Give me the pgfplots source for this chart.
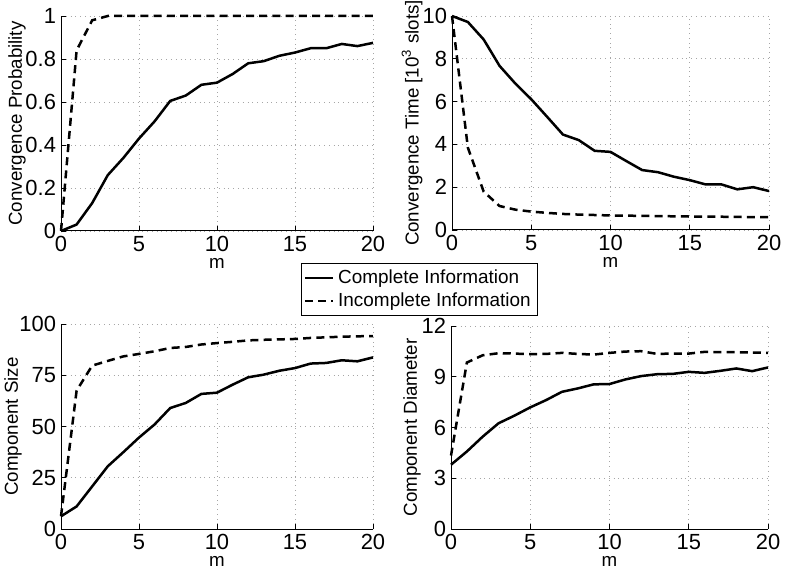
\documentclass[border=0pt]{standalone}
\usepackage{fontspec}
\setmainfont{Liberation Sans}
\usepackage{pgfplots}
\pgfplotsset{compat=1.18}
\pgfplotsset{
  mystyle/.style={
    scale only axis,
    xmin=0, xmax=20, xtick={0,5,10,15,20},
    axis x line*=bottom, axis y line*=left,
    axis line style={-, line width=0.5bp},
    tick align=inside, major tick length=2.5bp,
    tick style={black, line width=0.4bp},
    grid=major, major grid style={dotted, gray!70, line width=0.4bp},
    /pgf/number format/assume math mode=true,
    tick label style={font=\fontsize{11}{12}\selectfont},
    xticklabel style={yshift=1bp},
    yticklabel style={xshift=1bp},
    label style={font=\fontsize{9.4}{11}\selectfont},
    xlabel={m},
    xlabel style={yshift=3.5bp},
    clip=false,
  },
  ylab/.style={ylabel style={at={(axis description cs:#1,0.5)}, anchor=center, rotate=0}},
  sol/.style={black, solid, line width=1.25bp},
  dsh/.style={black, line width=1.25bp, dash pattern=on 4bp off 2.6bp},
}
\begin{document}
\begin{tikzpicture}
\path[use as bounding box] (0,0) rectangle (394.5bp,285bp);
% Panel 1
\begin{axis}[mystyle, at={(30.5bp,169.5bp)}, anchor=south west,
  width=156bp, height=107.5bp, ymin=0, ymax=1, ytick={0,0.2,0.4,0.6,0.8,1},
  yticklabels={0,0.2,0.4,0.6,0.8,1},
  ylabel={Convergence Probability}, ylab=-0.141,
  legend style={at={(0.769,-0.149)}, anchor=north west, draw=black, line width=0.4bp,
    font=\fontsize{9.5}{11}\selectfont, inner sep=1.2bp, row sep=-1bp,
    legend cell align=left},
  legend image code/.code={\draw[#1] (0bp,0bp) -- (14bp,0bp);},
  ]
\addplot[sol] coordinates {(0,0) (1,0.03) (2,0.13) (3,0.26) (4,0.34) (5,0.43) (6,0.51) (7,0.605) (8,0.63) (9,0.68) (10,0.69) (11,0.73) (12,0.78) (13,0.79) (14,0.815) (15,0.83) (16,0.85) (17,0.85) (18,0.87) (19,0.86) (20,0.875)};
\addlegendentry{Complete Information}
\addplot[dsh] coordinates {(0,0) (1,0.84) (2,0.98) (3,1.0) (4,1.0) (5,1.0) (6,1.0) (7,1.0) (8,1.0) (9,1.0) (10,1.0) (11,1.0) (12,1.0) (13,1.0) (14,1.0) (15,1.0) (16,1.0) (17,1.0) (18,1.0) (19,1.0) (20,1.0)};
\addlegendentry{Incomplete Information}
\end{axis}
% Panel 2
\begin{axis}[mystyle, at={(226bp,170bp)}, anchor=south west,
  width=158.5bp, height=107bp, ymin=0, ymax=10, ytick={0,2,4,6,8,10},
  ylabel={Convergence Time [10\textsuperscript{3} slots]}, ylab=-0.126,
  ]
\addplot[sol] coordinates {(0,10) (1,9.72) (2,8.9) (3,7.67) (4,6.84) (5,6.11) (6,5.29) (7,4.46) (8,4.2) (9,3.7) (10,3.65) (11,3.22) (12,2.8) (13,2.7) (14,2.49) (15,2.33) (16,2.13) (17,2.13) (18,1.9) (19,2.0) (20,1.82)};
\addplot[dsh] coordinates {(0,10) (1,3.85) (2,1.79) (3,1.12) (4,0.95) (5,0.86) (6,0.8) (7,0.75) (8,0.72) (9,0.7) (10,0.68) (11,0.67) (12,0.66) (13,0.65) (14,0.64) (15,0.63) (16,0.62) (17,0.62) (18,0.61) (19,0.6) (20,0.6)};
\end{axis}
% Panel 3
\begin{axis}[mystyle, at={(30.5bp,20.5bp)}, anchor=south west,
  width=156bp, height=102.5bp, ymin=0, ymax=100, ytick={0,25,50,75,100},
  ylabel={Component Size}, ylab=-0.154,
  ]
\addplot[sol] coordinates {(0,6.2) (1,11) (2,20.8) (3,30.6) (4,37.5) (5,44.6) (6,51) (7,59) (8,61.5) (9,65.9) (10,66.5) (11,70.4) (12,74) (13,75.3) (14,77.2) (15,78.5) (16,80.7) (17,81) (18,82.3) (19,81.8) (20,83.7)};
\addplot[dsh] coordinates {(0,6.2) (1,67.5) (2,79.7) (3,82) (4,84.2) (5,85.4) (6,86.7) (7,88.3) (8,88.8) (9,90) (10,90.7) (11,91.3) (12,92) (13,92.3) (14,92.5) (15,92.7) (16,93.2) (17,93.5) (18,93.8) (19,94) (20,94.1)};
\end{axis}
% Panel 4
\begin{axis}[mystyle, at={(225.5bp,20.5bp)}, anchor=south west,
  width=158.5bp, height=101.5bp, ymin=0, ymax=12, ytick={0,3,6,9,12},
  ylabel={Component Diameter}, ylab=-0.123,
  ]
\addplot[sol] coordinates {(0,3.8) (1,4.58) (2,5.46) (3,6.25) (4,6.7) (5,7.19) (6,7.62) (7,8.11) (8,8.31) (9,8.55) (10,8.57) (11,8.84) (12,9.04) (13,9.15) (14,9.17) (15,9.29) (16,9.23) (17,9.35) (18,9.49) (19,9.33) (20,9.55)};
\addplot[dsh] coordinates {(0,4.34) (1,9.84) (2,10.27) (3,10.39) (4,10.37) (5,10.33) (6,10.35) (7,10.41) (8,10.35) (9,10.31) (10,10.41) (11,10.49) (12,10.51) (13,10.35) (14,10.37) (15,10.37) (16,10.47) (17,10.45) (18,10.45) (19,10.43) (20,10.41)};
\end{axis}
\end{tikzpicture}
\end{document}
